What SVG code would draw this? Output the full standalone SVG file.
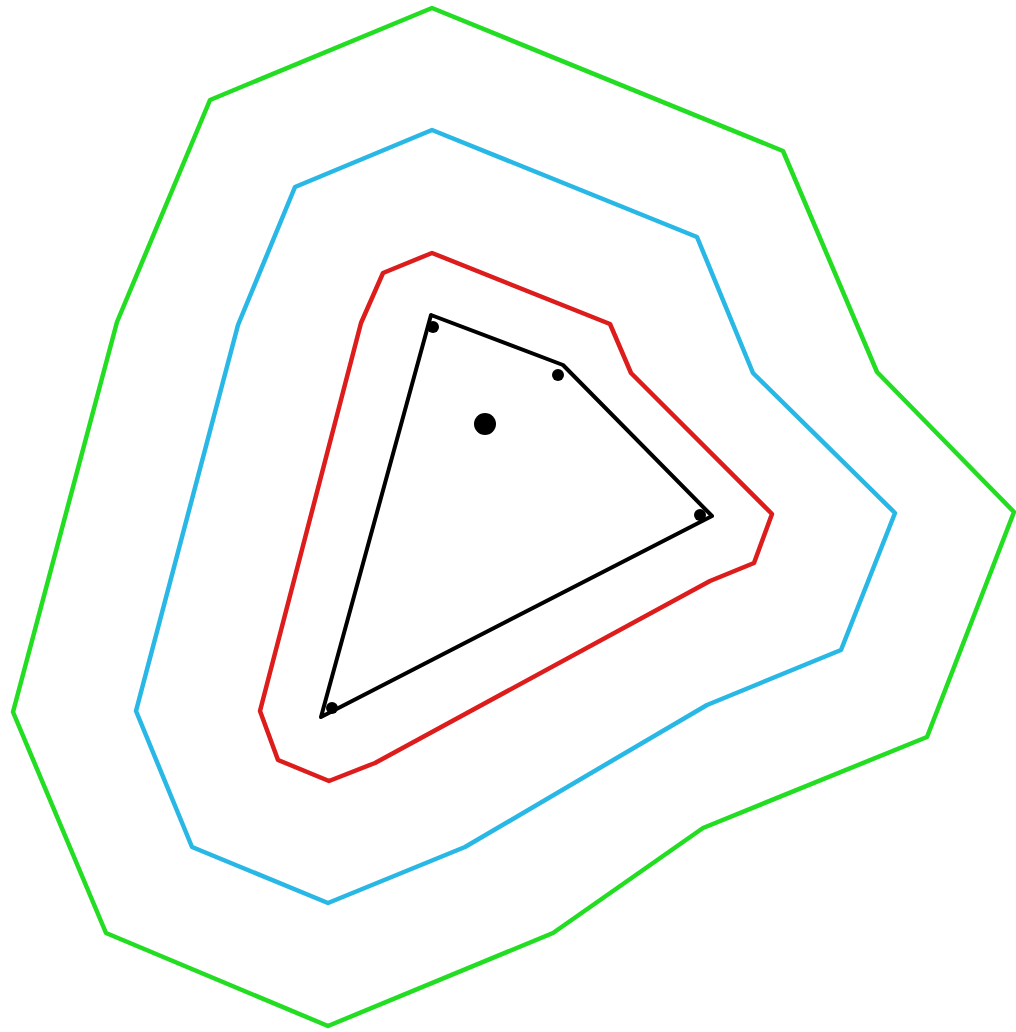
<svg xmlns="http://www.w3.org/2000/svg" width="1016" height="1032" viewBox="0 0 1016 1032">
<style>
.p{fill:none;stroke-width:4.5;stroke-linejoin:round}
.g{stroke:#22dd22}
.b{stroke:#29b8e6}
.r{stroke:#dd1c1c}
.k{stroke:#000;stroke-width:4}
.d{fill:#000}
</style>
<rect width="1016" height="1032" fill="#fff"/>
<g id="green"><polygon class="p g" points="432,8 210,100 117,322 13,712 106,933 328,1026 553,933 703,828 927,737 1014,512 877,372 783,151"/></g>
<g id="blue"><polygon class="p b" points="432,130 295,187 238,325 136,711 192,847 328,903 465,847 707,705 841,650 895,513 753,373 697,237"/></g>
<g id="red"><polygon class="p r" points="432,253 383,273 361,323 260,711 278,760 329,781 375,763 710,581 754,563 772,514 631,373 610,324"/></g>
<g id="hull"><polygon class="p k" points="431,315 563,365 712,516 321,717"/></g>
<g id="points">
<circle class="d" cx="433" cy="327" r="6"/>
<circle class="d" cx="558" cy="375" r="6"/>
<circle class="d" cx="700" cy="515" r="6"/>
<circle class="d" cx="332" cy="708" r="6"/>
<circle class="d" cx="485" cy="424" r="11"/>
</g>
</svg>
